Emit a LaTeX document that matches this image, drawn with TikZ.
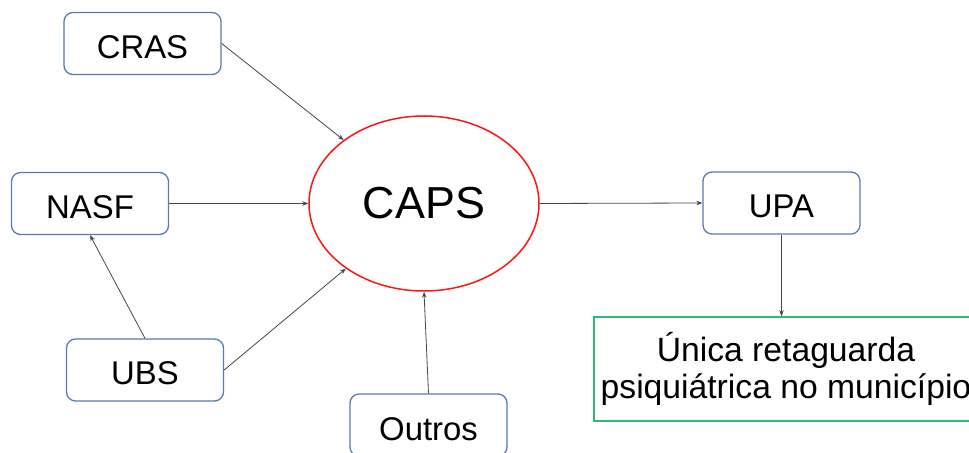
\documentclass[tikz,border=0pt]{standalone}
\usepackage{fontspec}
\setmainfont{Liberation Sans}
\usetikzlibrary{shapes.geometric,arrows.meta}
\definecolor{boxblue}{RGB}{88,124,172}
\definecolor{capsred}{RGB}{255,20,20}
\definecolor{boxgreen}{RGB}{40,190,110}
\definecolor{linegray}{RGB}{70,70,70}
\tikzset{
  rbox/.style={draw=boxblue, line width=1.3bp, rounded corners=9bp, fill=white,
    minimum width=157bp, minimum height=62bp, inner sep=0pt,
    text height=30bp, text depth=0bp,
    font=\fontsize{33}{38}\selectfont},
  capsnode/.style={ellipse, draw=capsred, line width=1.5bp, minimum width=230bp,
    minimum height=175bp, inner sep=0pt, font=\fontsize{45}{50}\selectfont},
  greenbox/.style={draw=boxgreen, line width=1.5bp, minimum width=384bp,
    minimum height=104bp, inner sep=0pt, align=center,
    font=\fontsize{33.8}{37}\selectfont},
  conn/.style={draw=linegray, line width=0.8bp, -{Stealth[length=6bp,width=4.5bp]}}
}
\begin{document}
\begin{tikzpicture}[x=1bp,y=-1bp]
\useasboundingbox (0,0) rectangle (969,453);
\node[rbox] (cras) at (142.5,43.5) {CRAS};
\node[rbox] (nasf) at (90,203.5) {NASF};
\node[rbox] (ubs) at (145,370) {UBS};
\node[rbox] (outros) at (428.5,425) {Outros};
\node[capsnode] (caps) at (424,203.5) {CAPS};
\node[rbox] (upa) at (781.5,203) {UPA};
\node[greenbox] (unica) at (786,369) {Única retaguarda\\psiquiátrica no município};
\draw[conn] (cras.east) -- (caps);
\draw[conn] (nasf.east) -- (caps.west);
\draw[conn] (ubs.north) -- (nasf.south);
\draw[conn] (ubs.east) -- (caps);
\draw[conn] (outros.north) -- (caps.south);
\draw[conn] (caps.east) -- (upa.west);
\draw[conn] (upa.south) -- (upa.south |- unica.north);
\end{tikzpicture}
\end{document}
